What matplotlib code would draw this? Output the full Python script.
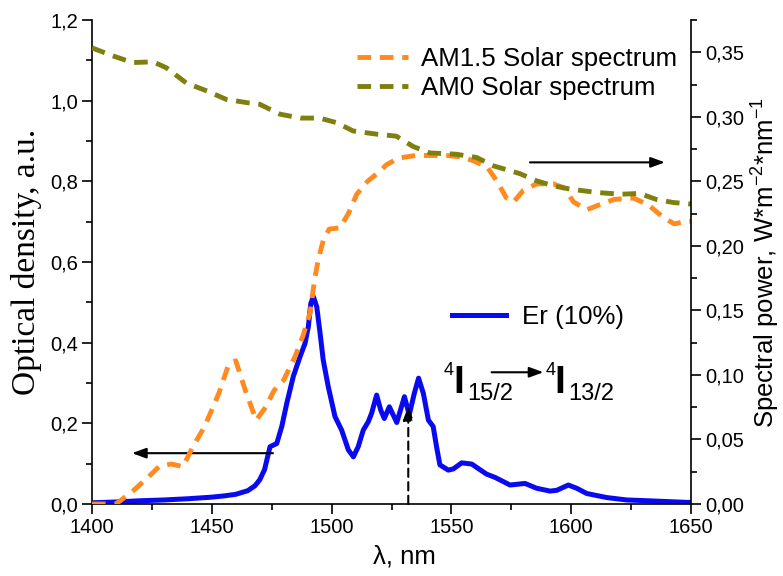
import matplotlib
matplotlib.use("Agg")
import matplotlib.pyplot as plt
from matplotlib.ticker import FuncFormatter, MultipleLocator

plt.rcParams["font.family"] = ["Liberation Sans", "DejaVu Sans"]

# Er (10%) optical density, left axis
er_wl = [1400, 1410, 1420, 1430, 1440, 1450, 1455, 1460, 1465, 1468, 1470, 1472,
         1474.3, 1477.1, 1479.2, 1481.3, 1484, 1486.8, 1488.9, 1490.3, 1491.3, 1492.4,
         1493.8, 1495.2, 1496.5, 1498.6, 1501.4, 1504.2, 1507, 1509.1, 1511.1, 1513.2,
         1515.3, 1516.7, 1518.8, 1520.5, 1522, 1524.1, 1527.2, 1530.4, 1532.4, 1534.5,
         1536.3, 1538.3, 1540.4, 1542.4, 1543.8, 1545.2, 1548.7, 1550.8, 1554.3, 1558.5,
         1561.2, 1564.7, 1568.2, 1574.5, 1580.7, 1585.6, 1591.2, 1594, 1598.8, 1602.3,
         1606.5, 1614.8, 1623.2, 1634.3, 1648.2, 1650]
er_od = [0.003, 0.005, 0.008, 0.010, 0.013, 0.017, 0.020, 0.024, 0.033, 0.045, 0.060, 0.085,
         0.142, 0.150, 0.192, 0.250, 0.316, 0.365, 0.398, 0.440, 0.497, 0.514,
         0.489, 0.423, 0.357, 0.291, 0.217, 0.183, 0.134, 0.117, 0.142, 0.183,
         0.204, 0.225, 0.270, 0.233, 0.212, 0.241, 0.202, 0.266, 0.221, 0.274,
         0.312, 0.274, 0.208, 0.192, 0.142, 0.097, 0.084, 0.087, 0.102, 0.099,
         0.088, 0.074, 0.066, 0.047, 0.051, 0.039, 0.032, 0.034, 0.047, 0.039,
         0.026, 0.016, 0.010, 0.0075, 0.004, 0.004]

# AM1.5 solar spectrum, right axis
am15_wl = [1400, 1410, 1417, 1423, 1428, 1433, 1438, 1442, 1447, 1453, 1457, 1460,
           1464, 1468.5, 1472.5, 1476, 1480, 1484.7, 1488, 1491, 1493, 1494.5, 1496.5, 1499,
           1503.5, 1507, 1510.5, 1515, 1519, 1523, 1528, 1535, 1540, 1548, 1554, 1559,
           1565, 1569, 1573, 1576, 1580, 1585.5, 1592.5, 1597, 1601, 1606.5, 1612, 1618,
           1626, 1632, 1638.5, 1643, 1648, 1650]
am15_pw = [0.0, 0.0, 0.010, 0.020, 0.029, 0.031, 0.029, 0.044, 0.060, 0.086, 0.108, 0.111,
           0.088, 0.065, 0.075, 0.088, 0.096, 0.114, 0.130, 0.148, 0.175, 0.190, 0.204, 0.213,
           0.214, 0.225, 0.240, 0.250, 0.256, 0.263, 0.268, 0.270, 0.270, 0.270, 0.269, 0.266,
           0.261, 0.250, 0.237, 0.234, 0.243, 0.248, 0.248, 0.245, 0.234, 0.228, 0.232, 0.236,
           0.237, 0.232, 0.222, 0.217, 0.219, 0.219]

# AM0 solar spectrum, right axis
am0_wl = [1400, 1409, 1417, 1425.5, 1431, 1439.5, 1448, 1456, 1464.5, 1470, 1478.5,
          1487, 1495, 1502, 1509, 1519, 1527, 1534, 1541, 1552, 1560.5, 1567.5, 1578.5,
          1585.5, 1592.5, 1599.5, 1610.5, 1620.5, 1628.5, 1635.5, 1642.5, 1650]
am0_pw = [0.3534, 0.347, 0.342, 0.3426, 0.338, 0.326, 0.320, 0.3135, 0.311, 0.3097, 0.302,
          0.299, 0.299, 0.2955, 0.289, 0.2865, 0.285, 0.277, 0.272, 0.271, 0.2685, 0.262, 0.256,
          0.2504, 0.2465, 0.244, 0.2414, 0.240, 0.2406, 0.236, 0.2336, 0.2324]

BLUE = "#0a0af0"
ORANGE = "#ff8a1f"
OLIVE = "#7f7f10"

fig = plt.figure(figsize=(7.83, 5.76), dpi=100)
ax = fig.add_axes([0.1175, 0.125, 0.765, 0.8403])
ax2 = ax.twinx()

dash = (2.8, 1.8)
l_am15, = ax2.plot(am15_wl, am15_pw, color=ORANGE, lw=3.5, ls="--", dashes=dash,
                   label="AM1.5 Solar spectrum")
l_am0, = ax2.plot(am0_wl, am0_pw, color=OLIVE, lw=3.5, ls="--", dashes=dash,
                  label="AM0 Solar spectrum")
l_er, = ax.plot(er_wl, er_od, color=BLUE, lw=3.6, solid_joinstyle="round",
                label="Er (10%)")

ax.set_xlim(1400, 1650)
ax.set_ylim(0, 1.2)
ax2.set_ylim(0, 0.375)

ax.xaxis.set_major_locator(MultipleLocator(50))
ax.xaxis.set_minor_locator(MultipleLocator(25))
ax.yaxis.set_major_locator(MultipleLocator(0.2))
ax.yaxis.set_minor_locator(MultipleLocator(0.1))
ax2.yaxis.set_major_locator(MultipleLocator(0.05))
ax2.yaxis.set_minor_locator(MultipleLocator(0.025))

ax.xaxis.set_major_formatter(FuncFormatter(lambda v, p: f"{v:.0f}"))
ax.yaxis.set_major_formatter(FuncFormatter(lambda v, p: f"{v:.1f}".replace(".", ",")))
ax2.yaxis.set_major_formatter(FuncFormatter(lambda v, p: f"{v:.2f}".replace(".", ",")))

for a in (ax, ax2):
    a.tick_params(which="major", direction="out", length=7, width=1.2, labelsize=14.5, pad=3)
    a.tick_params(which="minor", direction="out", length=4, width=1.2)
    a.spines["top"].set_visible(False)
    for s in a.spines.values():
        s.set_linewidth(1.2)
ax.spines["right"].set_visible(False)
ax2.spines["left"].set_visible(False)
ax2.spines["bottom"].set_visible(False)

ax.set_ylabel("Optical density, a.u.", family="Liberation Serif", fontsize=24, labelpad=6)
ax.set_xlabel("λ, nm", fontsize=18.5)
ax.xaxis.set_label_coords(0.522, -0.083)
ax2.set_ylabel(r"Spectral power, W*m$^{\mathregular{-2}}$*nm$^{\mathregular{-1}}$",
               fontsize=18.5, labelpad=3)

leg1 = ax2.legend(handles=[l_am15, l_am0], loc="upper left", bbox_to_anchor=(0.442, 0.945),
                  frameon=False, fontsize=18.6, borderpad=0, borderaxespad=0,
                  handlelength=2.0, handletextpad=0.5, labelspacing=0.22)
leg2 = ax2.legend(handles=[l_er], loc="center left", bbox_to_anchor=(0.6005, 0.387),
                  frameon=False, fontsize=18.6, borderpad=0, borderaxespad=0,
                  handlelength=2.1, handletextpad=0.62)
ax2.add_artist(leg1)

arrow = dict(arrowstyle="-|>,head_length=0.6,head_width=0.22", lw=1.5, color="k",
             shrinkA=0, shrinkB=0, mutation_scale=14)
# pointers to the axis each curve belongs to
ax.annotate("", xy=(1416.7, 0.126), xytext=(1475.5, 0.126), arrowprops=arrow)
ax.annotate("", xy=(1639.1, 0.847), xytext=(1582.8, 0.847), arrowprops=arrow)
# excitation wavelength
ax.annotate("", xy=(1532, 0.243), xytext=(1532, 0.0),
            arrowprops=dict(arrow, linestyle=(0, (4, 2.5))))

# 4I15/2 -> 4I13/2 transition label
def level(x, sub):
    ax.text(x, 0.320, "4", fontsize=13, va="baseline")
    ax.text(x + 3.8, 0.275, "I", fontsize=28, fontweight="bold", va="baseline")
    ax.text(x + 9.6, 0.258, sub, fontsize=17, va="baseline")

level(1546.9, "15/2")
level(1589.3, "13/2")
ax.annotate("", xy=(1588.4, 0.3266), xytext=(1566.8, 0.3266), arrowprops=arrow)

fig.savefig("out.png", dpi=100)
